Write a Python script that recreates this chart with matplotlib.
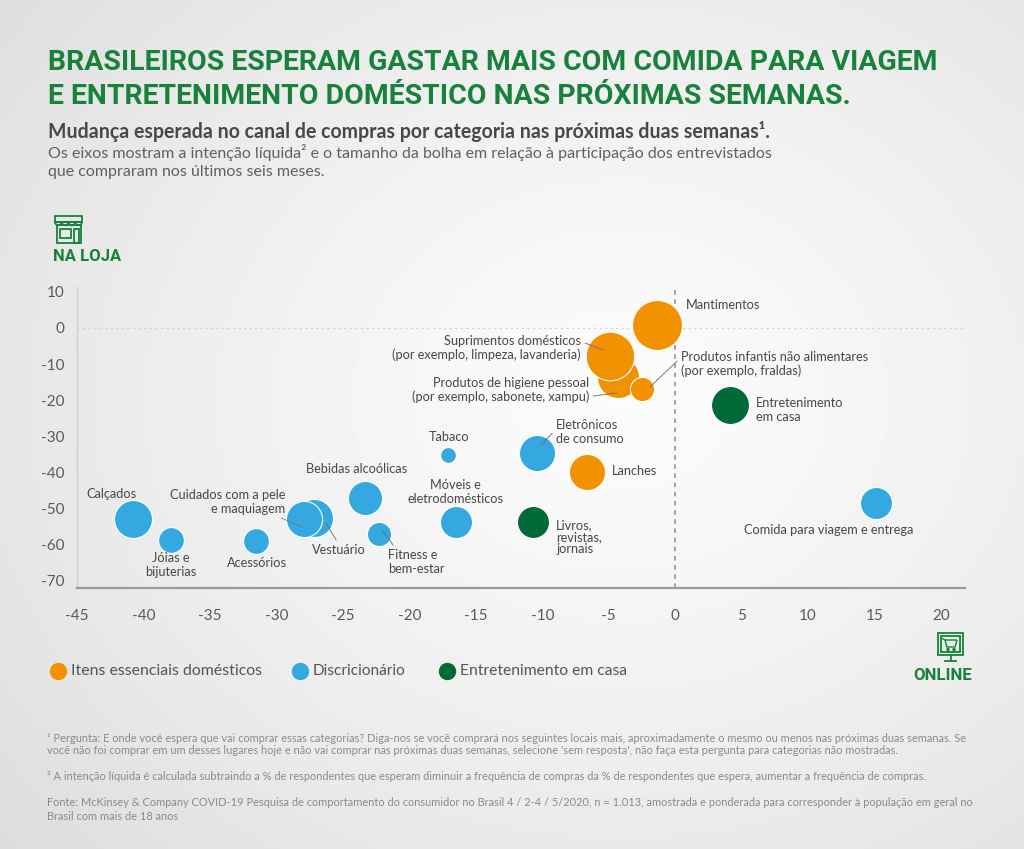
import numpy as np
import matplotlib
matplotlib.use("Agg")
import matplotlib.pyplot as plt
from matplotlib import font_manager
from matplotlib.lines import Line2D
from matplotlib.patches import Rectangle, Polygon, Circle, Wedge
from matplotlib.transforms import offset_copy

# --- data ----------------------------------------------------------------
categories = [
    "Mantimentos",
    "Produtos de higiene pessoal\n(por exemplo, sabonete, xampu)",
    "Suprimentos domésticos\n(por exemplo, limpeza, lavanderia)",
    "Produtos infantis não alimentares\n(por exemplo, fraldas)",
    "Lanches",
    "Entretenimento\nem casa",
    "Livros,\nrevistas,\njornais",
    "Comida para viagem e entrega",
    "Eletrônicos\nde consumo",
    "Tabaco",
    "Móveis e\neletrodomésticos",
    "Bebidas alcoólicas",
    "Fitness e\nbem-estar",
    "Vestuário",
    "Cuidados com a pele\ne maquiagem",
    "Acessórios",
    "Jóias e\nbijuterias",
    "Calçados",
]
online_intent = [-1.4, -4.3, -4.9, -2.5, -6.6, 4.1, -10.7, 15.1, -10.4, -17.1,
                 -16.5, -23.3, -22.3, -27.2, -27.9, -31.5, -37.9, -40.8]
store_intent = [0.8, -13.6, -7.8, -16.9, -39.9, -21.3, -53.7, -48.5, -34.6, -35.2,
                -53.7, -47.1, -57.0, -52.6, -52.9, -59.0, -58.7, -52.9]
share = [90, 64, 85, 21, 47, 52, 37, 37, 47, 9,
         37, 42, 21, 52, 47, 24, 24, 52]
group = ["ess", "ess", "ess", "ess", "ess", "ent", "ent", "disc", "disc", "disc",
         "disc", "disc", "disc", "disc", "disc", "disc", "disc", "disc"]

group_names = ["Itens essenciais domésticos", "Discricionário", "Entretenimento em casa"]
group_keys = ["ess", "disc", "ent"]

x_ticks = list(range(-45, 21, 5))
y_ticks = list(range(-70, 11, 10))

# --- style ---------------------------------------------------------------
colors = {"ess": "#F39200", "disc": "#35A8E0", "ent": "#006A38"}
GREEN = "#18823A"
TXT = "#484848"


def pick(names):
    for n in names:
        try:
            font_manager.findfont(font_manager.FontProperties(family=n),
                                  fallback_to_default=False)
            return n
        except ValueError:
            pass
    return "DejaVu Sans"


BODY = [pick(["Lato", "Open Sans", "Roboto"]), "DejaVu Sans"]
HEAD = [pick(["Liberation Sans Narrow", "Roboto", "Open Sans"]), "DejaVu Sans"]
plt.rcParams["font.family"] = BODY
plt.rcParams["axes.unicode_minus"] = False

# label layout: offset (px) of the text from the bubble, alignment, leader end
label_layout = {
    "Mantimentos": (29, 20, "left", None, None),
    "Produtos de higiene pessoal": (-29, -13, "right", (1, 0.25), (-1, -16)),
    "Suprimentos domésticos": (-29, 8, "right", (1, 0.75), (-7, 6)),
    "Produtos infantis": (39, 25, "left", (0, 0.75), (8, 2)),
    "Lanches": (24, 1, "left", None, None),
    "Entretenimento": (26, -5, "left", None, None),
    "Livros,": (23, -15, "left", None, None),
    "Comida para": (-47, -27, "center", None, None),
    "Eletrônicos": (19, 21, "left", (0, 0.6), (4, 8)),
    "Tabaco": (1, 18, "center", None, None),
    "Móveis e": (0, 30, "center", None, None),
    "Bebidas": (-9, 29, "center", None, None),
    "Fitness e": (9, -28, "left", (0.15, 1), (4, 3)),
    "Vestuário": (25, -32, "center", (0.5, 1), (12, -5)),
    "Cuidados": (-19, 17, "right", (0.9, 0), (-2, -8)),
    "Acessórios": (0, -22, "center", None, None),
    "Jóias e": (-1, -25, "center", None, None),
    "Calçados": (-21, 25, "center", None, None),
}


def layout_for(name):
    for k, v in label_layout.items():
        if name.startswith(k):
            return v
    return (0, 0, "center", None, None)


W, H = 1024, 849
fig = plt.figure(figsize=(W / 100, H / 100), dpi=100)

# background gradient + pixel-space canvas for decorations
bg = fig.add_axes([0, 0, 1, 1])
yy, xx = np.mgrid[0:H, 0:W]
d = np.sqrt(((xx - 620) / W) ** 2 + ((yy - 400) / H) ** 2)
grad = np.clip(0.985 - 0.16 * d ** 1.3, 0, 1)
bg.imshow(grad, cmap="gray", vmin=0, vmax=1, extent=(0, W, H, 0), aspect="auto",
          interpolation="bilinear")
bg.set_xlim(0, W)
bg.set_ylim(H, 0)
bg.axis("off")

# --- main plot -----------------------------------------------------------
ax_l, ax_r, ax_t, ax_b = 77, 965, 287, 588
ax = fig.add_axes([ax_l / W, 1 - ax_b / H, (ax_r - ax_l) / W, (ax_b - ax_t) / H])
ax.patch.set_alpha(0)
ax.set_xlim(-45, 21.8)
ax.set_ylim(-71.96, 11.3)

for sp in ["top", "right"]:
    ax.spines[sp].set_visible(False)
ax.spines["left"].set_color("#cfcfcf")
ax.spines["left"].set_linewidth(1)
ax.spines["bottom"].set_color("#9a9a9a")
ax.spines["bottom"].set_linewidth(1.6)

ax.set_xticks(x_ticks)
ax.set_yticks(y_ticks)
ax.tick_params(length=0, labelsize=11, labelcolor="#5a5a5a")
ax.tick_params(axis="x", pad=15)
ax.tick_params(axis="y", pad=9)

ax.axhline(0, color="#d2d2d2", lw=0.8, ls=(0, (2, 3)), zorder=1)
ax.axvline(0, color="#8a8a8a", lw=1.1, ls=(0, (3, 3)), zorder=1)

for name, xv, yv, sv, g in zip(categories, online_intent, store_intent, share, group):
    ax.scatter([xv], [yv], s=14.4 * sv, color=colors[g], edgecolor="white",
               linewidth=0.8, zorder=3)

for name, xv, yv in zip(categories, online_intent, store_intent):
    dx, dy, ha, relpos, end = layout_for(name)
    ls = 1.0 if name.startswith("Livros") else 1.15
    if end is None:
        ax.annotate(name, xy=(xv, yv), xytext=(dx, dy), textcoords="offset pixels",
                    ha=ha, va="center", multialignment=ha, fontsize=9.2,
                    color=TXT, linespacing=ls, zorder=5)
    else:
        tr = offset_copy(ax.transData, fig=fig, x=end[0], y=end[1], units="dots")
        lstyle = (0, (2, 1.5)) if name.startswith("Cuidados") else "-"
        ax.annotate(name, xy=(xv, yv), xycoords=tr,
                    xytext=(dx - end[0], dy - end[1]), textcoords="offset pixels",
                    ha=ha, va="center", multialignment=ha, fontsize=9.2,
                    color=TXT, linespacing=ls, zorder=5,
                    arrowprops=dict(arrowstyle="-", color="#6a6a6a", lw=0.6,
                                    ls=lstyle, relpos=relpos, shrinkA=1, shrinkB=0))

# --- header text ---------------------------------------------------------
renderer = fig.canvas.get_renderer()


def fit(t, width):
    w = t.get_window_extent(renderer).width
    t.set_fontsize(t.get_fontsize() * width / w)
    return t


t1 = bg.text(48, 62.5, "BRASILEIROS ESPERAM GASTAR MAIS COM COMIDA PARA VIAGEM",
             family=HEAD, fontweight="bold", color=GREEN, fontsize=20, va="center")
fit(t1, 887)
bg.text(48, 96.5, "E ENTRETENIMENTO DOMÉSTICO NAS PRÓXIMAS SEMANAS.",
        family=HEAD, fontweight="bold", color=GREEN, fontsize=t1.get_fontsize(),
        va="center")

st = bg.text(48, 131, "Mudança esperada no canal de compras por categoria nas próximas duas semanas¹.",
             fontweight="bold", color=TXT, fontsize=11, va="center")
fit(st, 719)
d1 = bg.text(48, 152, "Os eixos mostram a intenção líquida² e o tamanho da bolha em relação à "
             "participação dos entrevistados", color="#606060", fontsize=10,
             va="center")
fit(d1, 727)
bg.text(48, 172, "que compraram nos últimos seis meses.", color="#606060",
        fontsize=d1.get_fontsize(), va="center")

# --- store icon / NA LOJA -----------------------------------------------
ic = dict(fill=False, edgecolor=GREEN, lw=1.3)
bg.add_patch(Rectangle((55, 216), 27, 6, **ic))
for cx in [58.4, 65.1, 71.9, 78.6]:
    bg.add_patch(Wedge((cx, 222), 3.3, 0, 180, **ic))
bg.add_patch(Rectangle((56.5, 225), 24, 18, **ic))
bg.add_patch(Rectangle((59.5, 229), 11, 9, **ic))
bg.add_patch(Rectangle((73.5, 229), 5, 14, **ic))
nl = bg.text(53, 256.5, "NA LOJA", family=HEAD, color=GREEN, fontweight="bold",
             fontsize=12, va="center")
fit(nl, 68)

# --- online icon / ONLINE ------------------------------------------------
bg.add_patch(Rectangle((938, 633), 25, 22, fill=True, facecolor="#e3f1e6",
                       edgecolor=GREEN, lw=1.3))
bg.add_patch(Rectangle((941, 636), 19, 16, **ic))
bg.plot([950.5, 950.5], [655, 660], color=GREEN, lw=1.3)
bg.plot([945, 956], [661, 661], color=GREEN, lw=1.3)
bg.add_patch(Polygon([[945, 640], [957, 640], [955, 647], [947, 647]], closed=True,
                     fill=False, edgecolor=GREEN, lw=1.0))
bg.plot([942.5, 945], [638.5, 640], color=GREEN, lw=1.0)
for cx in [948, 954]:
    bg.add_patch(Circle((cx, 649.5), 1.0, color=GREEN))
ol = bg.text(913, 675, "ONLINE", family=HEAD, color=GREEN, fontweight="bold",
             fontsize=11, va="center")
fit(ol, 59)

# --- legend --------------------------------------------------------------
leg_x = [58, 300, 447]
leg_w = [192, 94, 168]
for lx, lw_, key, lab in zip(leg_x, leg_w, group_keys, group_names):
    bg.add_line(Line2D([lx], [671], marker="o", markersize=12.5, color=colors[key],
                       markeredgewidth=0))
    lt = bg.text(lx + 13, 671, lab, color="#555555", fontsize=10.5, va="center")
    fit(lt, lw_)

# --- footnotes -----------------------------------------------------------
FN = "#8a8a8a"
f1 = bg.text(47, 738, "¹ Pergunta: E onde você espera que vai comprar essas categorias? Diga-nos se "
             "você comprará nos seguintes locais mais, aproximadamente o mesmo ou menos nas "
             "próximas duas semanas. Se", color=FN, fontsize=7, va="center")
fit(f1, 915)
fs = f1.get_fontsize()
foot = [
    (750, "você não foi comprar em um desses lugares hoje e não vai comprar nas próximas "
          "duas semanas, selecione 'sem resposta', não faça esta pergunta para categorias "
          "não mostradas."),
    (776, "² A intenção líquida é calculada subtraindo a % de respondentes que esperam "
          "diminuir a frequência de compras da % de respondentes que espera, aumentar a "
          "frequência de compras."),
    (803, "Fonte: McKinsey & Company COVID-19 Pesquisa de comportamento do consumidor no "
          "Brasil 4 / 2-4 / 5/2020, n = 1.013, amostrada e ponderada para corresponder à "
          "população em geral no"),
    (817, "Brasil com mais de 18 anos"),
]
for yv, txt in foot:
    bg.text(47, yv, txt, color=FN, fontsize=fs, va="center")

fig.savefig("out.png", dpi=100)
